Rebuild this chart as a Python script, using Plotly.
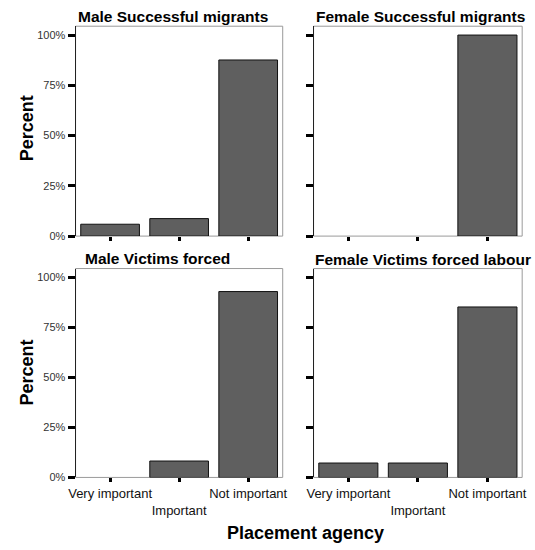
import plotly.graph_objects as go
from plotly.subplots import make_subplots

categories = ["Very important", "Important", "Not important"]
category_ticktext = ["Very important", "<br>Important", "Not important"]
male_successful = [5.9, 8.7, 87.6]
female_successful = [0.0, 0.0, 100.0]
male_victims = [0.0, 8.2, 92.9]
female_victims = [7.2, 7.2, 85.2]
panel_titles = ["Male Successful migrants", "Female Successful migrants",
                "Male Victims forced", "Female Victims forced labour"]
y_tickvals = [0, 25, 50, 75, 100]
y_ticktext = ["0%", "25%", "50%", "75%", "100%"]
y_axis_title = "Percent"
x_axis_title = "Placement agency"

W, H = 535, 550
FONT = "Liberation Sans, Arial, sans-serif"


def px_x(p):
    return p / W


def px_y(p):
    return 1 - p / H


fig = make_subplots(rows=2, cols=2)

series = [male_successful, female_successful, male_victims, female_victims]
positions = [(1, 1), (1, 2), (2, 1), (2, 2)]
for vals, (r, c) in zip(series, positions):
    fig.add_trace(go.Bar(x=categories, y=vals,
                         marker=dict(color="#5f5f5f",
                                     line=dict(color="#111111",
                                               width=[1 if v > 0 else 0 for v in vals])),
                         width=0.85, showlegend=False, hoverinfo="skip"),
                  row=r, col=c)

x_domains = {1: [px_x(70), px_x(281.5)], 2: [px_x(313), px_x(526)]}
y_domains = {1: [px_y(238.7), px_y(26.5)], 2: [px_y(482.7), px_y(271.5)]}

for idx, (r, c) in enumerate(positions, start=1):
    xa = "xaxis" if idx == 1 else f"xaxis{idx}"
    ya = "yaxis" if idx == 1 else f"yaxis{idx}"
    fig.layout[xa].update(
        domain=x_domains[c], range=[-0.5, 2.5], type="category",
        tickmode="array", tickvals=categories, ticktext=category_ticktext,
        showticklabels=(r == 2), tickangle=0, ticks="outside", ticklen=4,
        tickwidth=3, tickcolor="#000000", showline=False, showgrid=False,
        zeroline=False,
        tickfont=dict(family=FONT, size=13, color="#111111"),
    )
    fig.layout[ya].update(
        domain=y_domains[r], range=[0, 104.4], tickmode="array",
        tickvals=y_tickvals, ticktext=y_ticktext, showticklabels=(c == 1),
        ticks="outside", ticklen=7, tickwidth=3, tickcolor="#000000",
        showline=True, linecolor="#222222", linewidth=1,
        showgrid=False, zeroline=False,
        tickfont=dict(family=FONT, size=11, color="#333333"),
    )
    xr = "x domain" if idx == 1 else f"x{idx} domain"
    yr = "y domain" if idx == 1 else f"y{idx} domain"
    fig.add_shape(type="rect", xref=xr, yref=yr, x0=0, x1=1, y0=0, y1=1,
                  line=dict(color="#9a9a9a", width=1), layer="below")

title_pos = [(72, 17), (315, 17), (80, 261.5), (314, 262.5)]
for t, (tx, ty) in zip(panel_titles, title_pos):
    fig.add_annotation(text=f"<b>{t}</b>", x=px_x(tx), y=px_y(ty), xref="paper",
                       yref="paper", xanchor="left", yanchor="middle",
                       showarrow=False, borderpad=0, borderwidth=0,
                       font=dict(family=FONT, size=15.5, color="#000000"))

for cy in (130, 377):
    fig.add_annotation(text=f"<b>{y_axis_title}</b>", x=px_x(20), y=px_y(cy),
                       xref="paper", yref="paper", textangle=-90,
                       xanchor="center", yanchor="middle", showarrow=False,
                       font=dict(family=FONT, size=18, color="#000000"))

fig.add_annotation(text=f"<b>{x_axis_title}</b>", x=px_x(304.5), y=px_y(538.5),
                   xref="paper", yref="paper", xanchor="center", yanchor="middle",
                   showarrow=False,
                   font=dict(family=FONT, size=18, color="#000000"))

fig.update_layout(width=W, height=H, margin=dict(l=0, r=0, t=0, b=0),
                  paper_bgcolor="white", plot_bgcolor="white")

fig.write_html("out.html", config={"displayModeBar": False},
               post_script="document.body.style.margin='0';document.body.style.overflow='hidden';")
